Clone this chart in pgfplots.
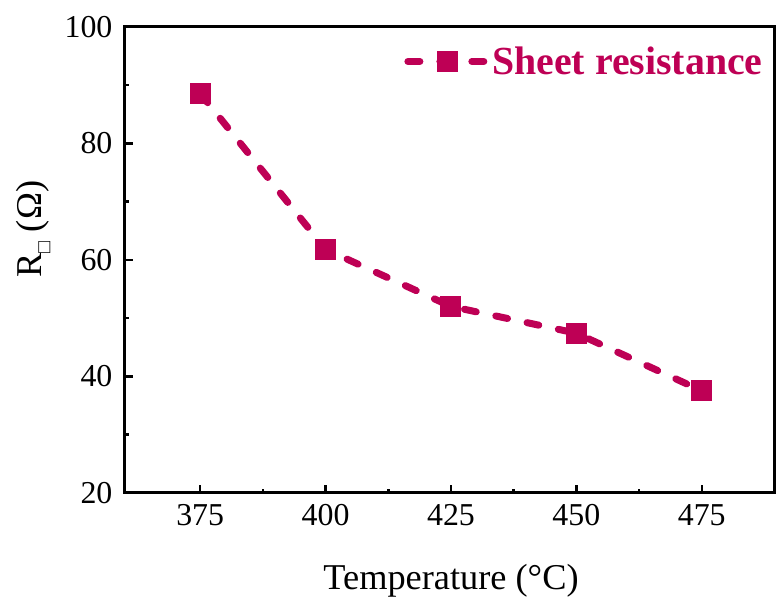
\documentclass[border=0pt]{standalone}
\usepackage{pgfplots}
\pgfplotsset{compat=1.18}
\usepackage{fontspec}
\setmainfont{Liberation Serif}
\definecolor{crim}{RGB}{190,0,85}
\begin{document}
\begin{tikzpicture}
\begin{axis}[
  scale only axis,
  width=650bp, height=466bp,
  xmin=360, xmax=489.5,
  ymin=20, ymax=100,
  xtick={375,400,425,450,475},
  ytick={20,40,60,80,100},
  minor x tick num=1,
  minor y tick num=1,
  xtick pos=left, ytick pos=left,
  tick align=inside,
  major tick length=8bp,
  minor tick length=4bp,
  every tick/.style={black, line width=2.5bp},
  axis line style={line width=3bp},
  /pgf/number format/assume math mode=true,
  /pgf/number format/set thousands separator={},
  tick label style={font=\fontsize{32}{38}\selectfont},
  xticklabel style={yshift=-8bp},
  yticklabel style={xshift=-9bp},
  xlabel={Temperature (°C)},
  ylabel={R\raisebox{-0.25em}{\fontsize{20}{24}\selectfont □} (Ω)},
  label style={font=\fontsize{36.5}{44}\selectfont},
  xlabel style={at={(axis description cs:0.502,-0.19)}, anchor=center},
  ylabel style={at={(axis description cs:-0.141,0.566)}, anchor=center},
  legend style={draw=none, fill=none, at={(axis description cs:0.985,0.962)}, anchor=north east,
    font=\fontsize{40}{48}\selectfont\bfseries, text=crim, inner sep=0pt},
  legend cell align=left,
  legend image code/.code={%
    \draw[mark repeat=2,mark phase=2,#1] plot coordinates {(0bp,0bp)(39.5bp,0bp)(79bp,0bp)};},
]
\addplot[color=crim, line width=7bp, line cap=round, dash pattern=on 12bp off 20bp,
  mark=square*, mark size=10bp, mark options={solid, fill=crim, draw=none, line width=0pt}]
  coordinates {(375,88.6) (400,61.8) (425,52.0) (450,47.4) (475,37.5)};
\addlegendentry{Sheet resistance}
\end{axis}
\path (-125bp,-106bp) rectangle (651bp,493bp);
\end{tikzpicture}
\end{document}
